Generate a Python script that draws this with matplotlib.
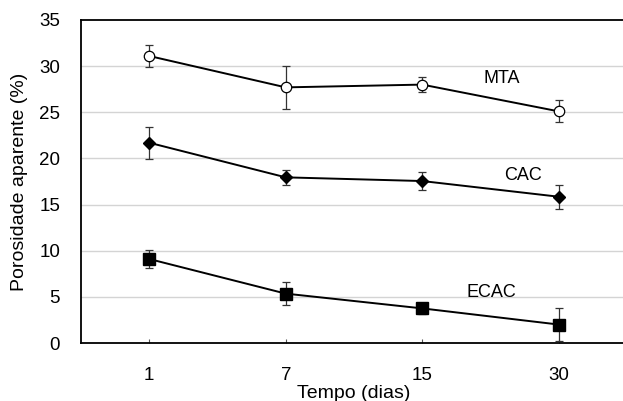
import matplotlib
matplotlib.use("Agg")
import matplotlib.pyplot as plt

days = ["1", "7", "15", "30"]
mta = [31.1, 27.7, 28.0, 25.1]
mta_err = [1.2, 2.3, 0.85, 1.2]
cac = [21.7, 17.95, 17.55, 15.85]
cac_err = [1.75, 0.8, 1.0, 1.3]
ecac = [9.1, 5.35, 3.75, 2.0]
ecac_err = [1.0, 1.25, 0.6, 1.8]

plt.rcParams['font.family'] = ['Liberation Sans', 'DejaVu Sans']

fig = plt.figure(figsize=(6.23, 4.01), dpi=100)
ax = fig.add_axes([81/623, 58/401, 546/623, 323/401])
x = list(range(len(days)))

for yv in [5, 10, 15, 20, 25, 30]:
    ax.axhline(yv, color='#d4d4d4', lw=1.0, zorder=0)

common = dict(color='black', lw=1.4, ecolor='#333333', elinewidth=0.9, capsize=3.2, capthick=0.9, zorder=3)
ax.errorbar(x, mta, yerr=mta_err, marker='o', ms=7.5, mfc='white', mec='black', mew=0.9, **common)
ax.errorbar(x, cac, yerr=cac_err, marker='D', ms=6, mfc='black', mec='black', **common)
ax.errorbar(x, ecac, yerr=ecac_err, marker='s', ms=8.5, mfc='black', mec='black', **common)

ax.text(2.58, 28.7, "MTA", fontsize=13, ha='center', va='center')
ax.text(2.74, 18.1, "CAC", fontsize=13, ha='center', va='center')
ax.text(2.51, 5.45, "ECAC", fontsize=13, ha='center', va='center')

ax.set_xlim(-0.5, 3.5)
ax.set_ylim(0, 35)
ax.set_xticks(x)
ax.set_xticklabels(days, fontsize=13.5)
ax.set_yticks(range(0, 36, 5))
ax.tick_params(axis='y', length=0, labelsize=13.5, pad=15)
ax.tick_params(axis='x', direction='in', length=3, width=0.8, color='#555555', pad=17)
for s in ['top', 'left', 'bottom']:
    ax.spines[s].set_linewidth(1.3)
    ax.spines[s].set_color('black')
ax.spines['right'].set_visible(False)

ax.set_xlabel("Tempo (dias)", fontsize=14, labelpad=1)
ax.set_ylabel("Porosidade aparente (%)", fontsize=14, labelpad=8)

fig.savefig("out.png", dpi=100)
